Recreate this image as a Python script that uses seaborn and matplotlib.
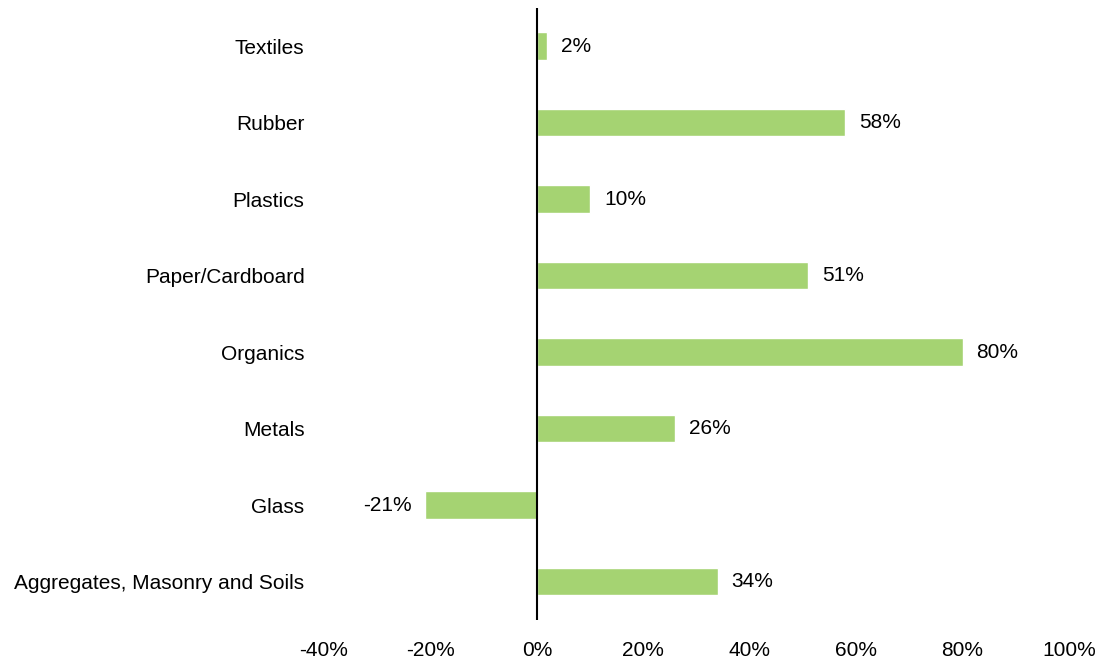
import matplotlib
matplotlib.use('Agg')
import matplotlib.pyplot as plt
import seaborn as sns
import pandas as pd
from matplotlib.ticker import FuncFormatter

# datos
categorias = ['Textiles', 'Rubber', 'Plastics', 'Paper/Cardboard', 'Organics',
              'Metals', 'Glass', 'Aggregates, Masonry and Soils']
valores = [2, 58, 10, 51, 80, 26, -21, 34]
xticks = [-40, -20, 0, 20, 40, 60, 80, 100]

df = pd.DataFrame({'Categoria': categorias, 'Valor': valores})

sns.set_style('white')
plt.rcParams['font.family'] = ['Liberation Sans', 'DejaVu Sans']
plt.rcParams['text.color'] = 'black'

fig = plt.figure(figsize=(11.05, 6.63), dpi=100)
ax = fig.add_axes([0.2932, 0.065, 0.6742, 0.923])

sns.barplot(data=df, x='Valor', y='Categoria', orient='h', color='#A5D372',
            saturation=1, width=0.36, ax=ax)

ax.axvline(0, color='black', linewidth=1.5)
ax.set_xlim(-40, 100)
ax.set_ylim(7.5, -0.5)
ax.set_xticks(xticks)
ax.xaxis.set_major_formatter(FuncFormatter(lambda v, p: f'{v:.0f}%'))
ax.tick_params(axis='both', length=0, labelsize=15, colors='black')
ax.tick_params(axis='x', pad=15)
ax.tick_params(axis='y', pad=14)
ax.set_xlabel('')
ax.set_ylabel('')
for s in ax.spines.values():
    s.set_visible(False)

# etiquetas
for i, v in enumerate(valores):
    if v >= 0:
        ax.text(v + 2.6, i, f'{v}%', ha='left', va='center', fontsize=15, color='black')
    else:
        ax.text(v - 2.6, i, f'{v}%', ha='right', va='center', fontsize=15, color='black')

fig.savefig('out.png', dpi=100, facecolor='white')
plt.close()
